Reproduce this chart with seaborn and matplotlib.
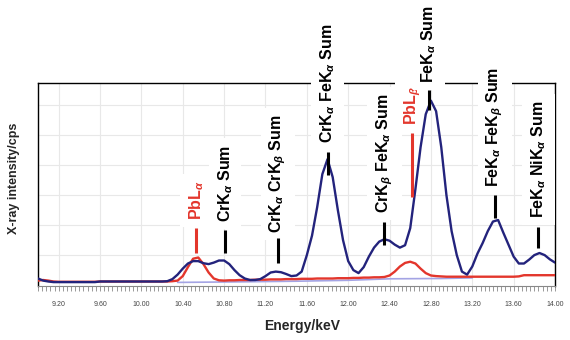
import numpy as np
import pandas as pd
import matplotlib
matplotlib.use("Agg")
import matplotlib.pyplot as plt
import seaborn as sns

# ---------------- data ----------------
energy = np.round(np.arange(9.0, 14.0001, 0.05), 2)

blue_counts = [
    0.22, 0.15, 0.12, 0.10, 0.10, 0.10, 0.10, 0.10, 0.10, 0.10,   # 9.00-9.45
    0.10, 0.10, 0.12, 0.12, 0.12, 0.12, 0.12, 0.12, 0.12, 0.12,   # 9.50-9.95
    0.12, 0.12, 0.12, 0.12, 0.12, 0.13, 0.20, 0.35, 0.55, 0.72,   # 10.00-10.45
    0.80, 0.80, 0.73, 0.70, 0.75, 0.82, 0.82, 0.70, 0.50, 0.33,   # 10.50-10.95
    0.22, 0.17, 0.17, 0.20, 0.30, 0.42, 0.45, 0.43, 0.37, 0.30,   # 11.00-11.45
    0.32, 0.45, 1.00, 1.65, 2.60, 3.70, 4.20, 3.60, 2.50, 1.50,   # 11.50-11.95
    0.80, 0.50, 0.40, 0.60, 0.95, 1.25, 1.45, 1.53, 1.48, 1.35,   # 12.00-12.45
    1.25, 1.33, 1.90, 3.20, 4.60, 5.70, 6.15, 5.80, 4.60, 3.00,   # 12.50-12.95
    1.80, 1.00, 0.45, 0.35, 0.62, 1.05, 1.40, 1.80, 2.12, 2.17,   # 13.00-13.45
    1.75, 1.35, 0.95, 0.72, 0.72, 0.85, 1.00, 1.07, 1.00, 0.86,   # 13.50-13.95
    0.75,                                                         # 14.00
]

red_counts = [
    0.15, 0.17, 0.15, 0.12, 0.11, 0.11, 0.11, 0.11, 0.11, 0.11,
    0.11, 0.11, 0.12, 0.12, 0.12, 0.12, 0.12, 0.12, 0.12, 0.12,
    0.12, 0.12, 0.12, 0.12, 0.12, 0.12, 0.13, 0.15, 0.30, 0.60,
    0.88, 0.92, 0.70, 0.42, 0.22, 0.16, 0.15, 0.16, 0.16, 0.17,
    0.17, 0.17, 0.18, 0.18, 0.18, 0.19, 0.19, 0.19, 0.20, 0.20,
    0.20, 0.21, 0.21, 0.21, 0.22, 0.22, 0.22, 0.22, 0.23, 0.23,
    0.23, 0.24, 0.24, 0.25, 0.25, 0.26, 0.26, 0.27, 0.32, 0.45,
    0.62, 0.74, 0.78, 0.72, 0.55, 0.40, 0.32, 0.30, 0.29, 0.28,
    0.28, 0.28, 0.28, 0.28, 0.28, 0.28, 0.28, 0.28, 0.28, 0.28,
    0.28, 0.28, 0.28, 0.29, 0.33, 0.33, 0.33, 0.33, 0.33, 0.33,
    0.33,
]

lav_energy = [10.35, 11.0, 11.5, 12.0, 12.4, 12.9, 13.2]
lav_counts = [0.09, 0.11, 0.13, 0.16, 0.21, 0.22, 0.24]

tick_values = [9.2, 9.6, 10.0, 10.4, 10.8, 11.2, 11.6, 12.0, 12.4, 12.8, 13.2, 13.6, 14.0]
tick_labels = ["9.20", "9.60", "10.00", "10.40", "10.80", "11.20", "11.60",
               "12.00", "12.40", "12.80", "13.20", "13.60", "14.00"]

peak_labels = [r"PbL$_\alpha$", r"CrK$_\alpha$ Sum", r"CrK$_\alpha$ CrK$_\beta$ Sum",
               r"CrK$_\alpha$ FeK$_\alpha$ Sum", r"CrK$_\beta$ FeK$_\alpha$ Sum",
               r"PbL$_\beta$", r"FeK$_\alpha$ Sum", r"FeK$_\alpha$ FeK$_\beta$ Sum",
               r"FeK$_\alpha$ NiK$_\alpha$ Sum"]
peak_energy = [10.53, 10.81, 11.32, 11.80, 12.35, 12.62, 12.78, 13.42, 13.84]
label_base = [2.17, 2.10, 1.74, 4.74, 2.40, 5.34, 6.74, 3.27, 2.24]
marker_lo = [1.07, 1.07, 0.74, 3.67, 1.34, 2.94, 5.84, 2.24, 1.24]
marker_hi = [1.90, 1.84, 1.57, 4.44, 2.10, 5.07, 6.50, 3.00, 1.94]
label_is_pb = [True, False, False, False, False, True, False, False, False]

# ---------------- style ----------------
sns.set_style("white")
plt.rcParams["font.family"] = ["Liberation Sans", "DejaVu Sans"]
plt.rcParams["mathtext.fontset"] = "custom"
plt.rcParams["mathtext.rm"] = "Liberation Sans:bold"
plt.rcParams["mathtext.it"] = "Liberation Sans:italic:bold"

BLUE = "#23237c"
RED = "#e3362c"
LAV = "#a4a4e4"

fig = plt.figure(figsize=(5.7, 3.4), dpi=100)
ax = fig.add_axes([38 / 570, 1 - 286 / 340, 517 / 570, 203 / 340])

df_blue = pd.DataFrame({"energy": energy, "counts": blue_counts})
df_red = pd.DataFrame({"energy": energy, "counts": red_counts})
df_lav = pd.DataFrame({"energy": lav_energy, "counts": lav_counts})

sns.lineplot(data=df_lav, x="energy", y="counts", ax=ax, color=LAV, lw=1.2, zorder=3)
sns.lineplot(data=df_red, x="energy", y="counts", ax=ax, color=RED, lw=1.7, zorder=4)
sns.lineplot(data=df_blue, x="energy", y="counts", ax=ax, color=BLUE, lw=1.7, zorder=5)

ax.set_xlim(9.0, 14.0)
ax.set_ylim(-0.03, 6.74)

ax.set_xticks(tick_values)
ax.set_xticklabels(tick_labels, fontsize=5, color="#444444")
ax.set_xticks(np.round(np.arange(9.0, 14.0001, 0.04), 2), minor=True)
ax.tick_params(axis="x", which="both", direction="out", length=3.5, width=0.6,
               color="#888888", bottom=True, pad=7)
ax.set_yticks([1, 2, 3, 4, 5, 6])
ax.set_yticklabels([])
ax.tick_params(axis="y", length=0)

ax.grid(True, which="major", color="#e8e8e8", lw=0.8)
ax.set_axisbelow(True)

for side in ["left", "top", "right"]:
    ax.spines[side].set_color("black")
    ax.spines[side].set_linewidth(1.0)
    ax.spines[side].set_zorder(2.5)
ax.spines["bottom"].set_color("#888888")
ax.spines["bottom"].set_linewidth(0.8)

ax.set_xlabel("Energy/keV", fontsize=10, fontweight="bold")
ax.xaxis.set_label_coords(0.51, -0.165)
ax.set_ylabel("X-ray intensity/cps", fontsize=9, fontweight="bold")
ax.yaxis.set_label_coords(-0.035, 0.53)

for txt, x, yb, lo, hi, pb in zip(peak_labels, peak_energy, label_base,
                                   marker_lo, marker_hi, label_is_pb):
    col = RED if pb else "black"
    ax.text(x, yb, txt, rotation=90, ha="center", va="bottom", fontsize=11.5,
            fontweight="bold", color=col, clip_on=False, zorder=2.7,
            bbox=dict(facecolor="white", edgecolor="none", pad=5))
    ax.plot([x, x], [lo, hi], color=col, lw=2.2, solid_capstyle="butt",
            zorder=7, clip_on=False)

fig.savefig("out.png", dpi=100)
